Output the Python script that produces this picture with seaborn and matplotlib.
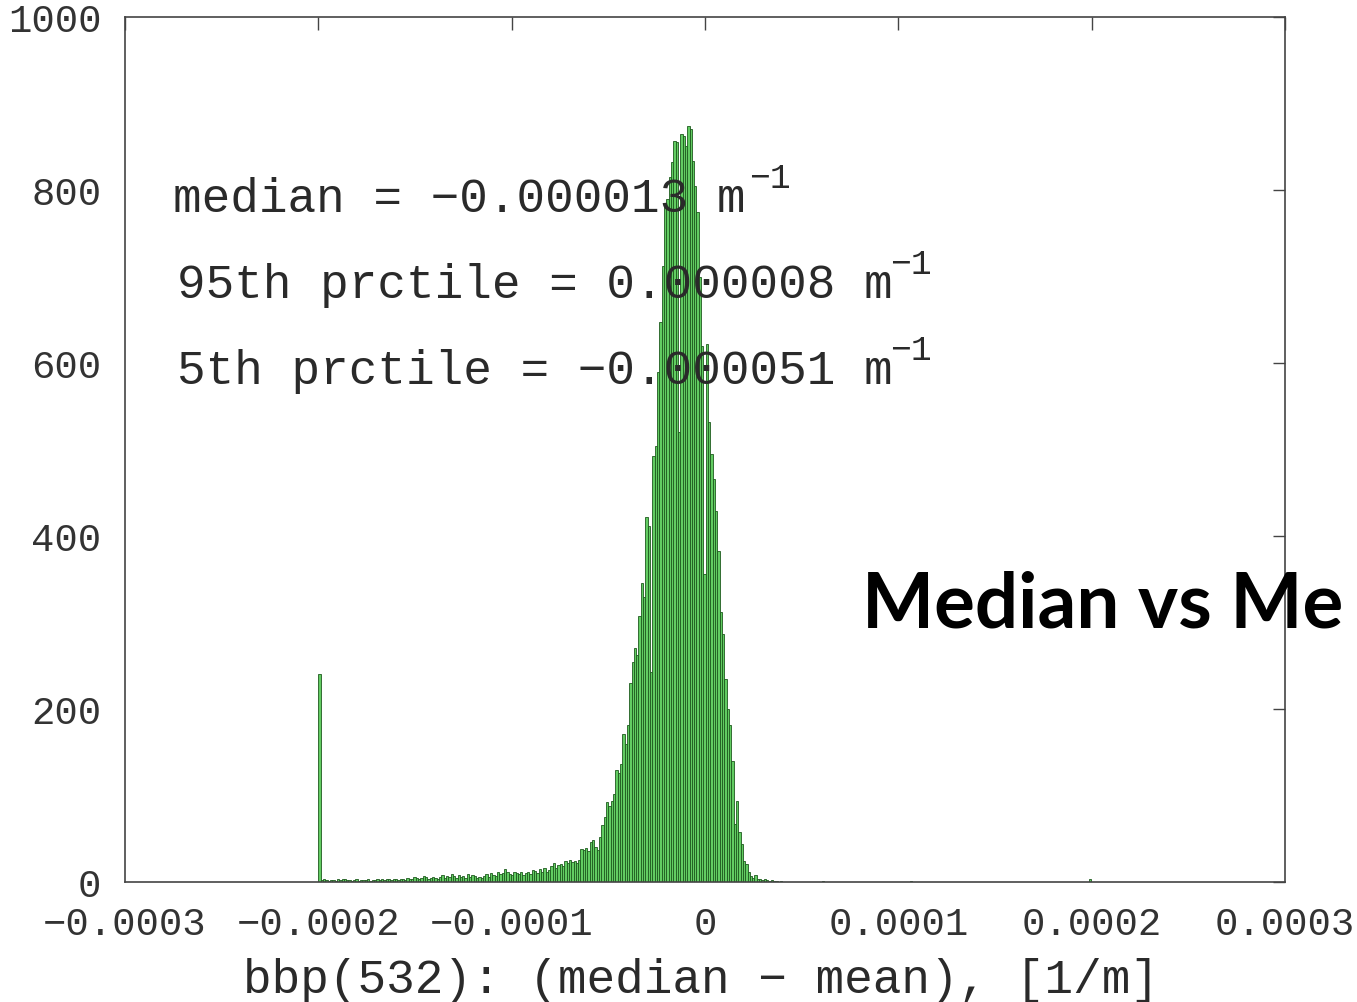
import numpy as np
import pandas as pd
import matplotlib
matplotlib.use("Agg")
import matplotlib.pyplot as plt
import seaborn as sns

# ---- data ----
bin_start = -0.0002
bin_width = 1.2e-6
main_counts = [
    240, 2, 3, 2, 1, 2, 2, 1, 3, 2,
    4, 3, 2, 2, 1, 2, 3, 1, 2, 2,
    2, 3, 1, 2, 2, 3, 2, 4, 2, 3,
    3, 2, 4, 3, 2, 3, 4, 2, 5, 3,
    4, 6, 5, 3, 5, 7, 6, 4, 5, 6,
    5, 4, 6, 8, 5, 7, 6, 9, 7, 5,
    8, 6, 7, 5, 9, 6, 8, 7, 5, 6,
    5, 7, 9, 6, 10, 8, 7, 11, 9, 10,
    15, 12, 9, 8, 11, 10, 9, 12, 8, 10,
    11, 9, 14, 13, 10, 15, 12, 16, 11, 14,
    18, 22, 16, 20, 21, 19, 24, 22, 25, 23,
    24, 22, 26, 38, 37, 39, 36, 46, 48, 40,
    37, 52, 66, 75, 92, 88, 94, 102, 130, 126,
    136, 171, 160, 181, 230, 254, 270, 262, 308, 346,
    330, 422, 412, 243, 492, 504, 590, 647, 712, 782,
    790, 815, 832, 857, 855, 520, 865, 863, 851, 874,
    870, 834, 805, 775, 700, 620, 356, 622, 532, 495,
    466, 429, 383, 312, 287, 235, 200, 182, 140, 67,
    94, 58, 44, 24, 21, 11, 7, 5, 8, 4,
    3, 2, 3, 2, 1, 2, 1, 1, 0, 1,
]
outlier_values = [6.1e-5, 1.07e-4, 1.995e-4]
outlier_counts = [1, 1, 4]

x_ticks = [-0.0003, -0.0002, -0.0001, 0.0, 0.0001, 0.0002, 0.0003]
x_tick_labels = ["\u22120.0003", "\u22120.0002", "\u22120.0001", "0", "0.0001", "0.0002", "0.0003"]
y_ticks = [0, 200, 400, 600, 800, 1000]
stat_lines = [
    ("median = \u22120.000013 m", (173, 200), (749, 178)),
    ("95th prctile = 0.000008 m", (177, 286), (890, 264)),
    ("5th prctile = \u22120.000051 m", (177, 372), (890, 350)),
]
title_text = "Median vs Me"
xlabel_text = "bbp(532): (median \u2212 mean), [1/m]"

# ---- build histogram input ----
n_main = len(main_counts)
main_centers = bin_start + bin_width * (np.arange(n_main) + 0.5)
n_bins = int(round((0.0002 - bin_start) / bin_width)) + 1
df = pd.DataFrame({
    "value": np.concatenate([main_centers, outlier_values]),
    "count": np.concatenate([main_counts, outlier_counts]).astype(float),
})

sns.set_theme(style="white")
plt.rcParams["font.family"] = ["Liberation Mono", "DejaVu Sans Mono"]

W, H = 1357, 1003
fig = plt.figure(figsize=(W / 100, H / 100), dpi=100)
ax = fig.add_axes([125 / W, (H - 883) / H, 1160 / W, 865 / H])

sns.histplot(data=df, x="value", weights="count",
             binwidth=bin_width, binrange=(bin_start, bin_start + n_bins * bin_width),
             ax=ax, color="#62cc62", edgecolor="#1e5a1e", linewidth=0.6, alpha=1.0)

ax.set_xlim(-0.0003, 0.0003)
ax.set_ylim(0, 1000)
ax.set_xticks(x_ticks)
ax.set_xticklabels(x_tick_labels)
ax.set_yticks(y_ticks)
ax.set_yticklabels([str(v) for v in y_ticks])
ax.tick_params(axis="both", direction="in", length=9, width=1, color="#444444",
               labelsize=28, labelcolor="#333333", top=True, right=True)
ax.tick_params(axis="y", pad=17)
ax.tick_params(axis="x", pad=17)
for s in ax.spines.values():
    s.set_color("#444444")
    s.set_linewidth(1.2)
ax.set_xlabel("")
ax.set_ylabel("")

def px(x, y):
    return x / W, 1 - y / H

for txt, (tx, ty), (sx, sy) in stat_lines:
    fig.text(*px(tx, ty), txt, fontsize=34.3, color="#2a2a2a", va="center", ha="left")
    fig.text(*px(sx, sy), "\u22121", fontsize=25, color="#2a2a2a", va="center", ha="left")

fig.text(*px(701, 981), xlabel_text, fontsize=34.3, color="#2a2a2a", ha="center", va="center")
fig.text(*px(862, 606), title_text, fontsize=55, fontweight="bold", color="black",
         family="Lato", ha="left", va="center")

fig.savefig("out.png", dpi=100)
